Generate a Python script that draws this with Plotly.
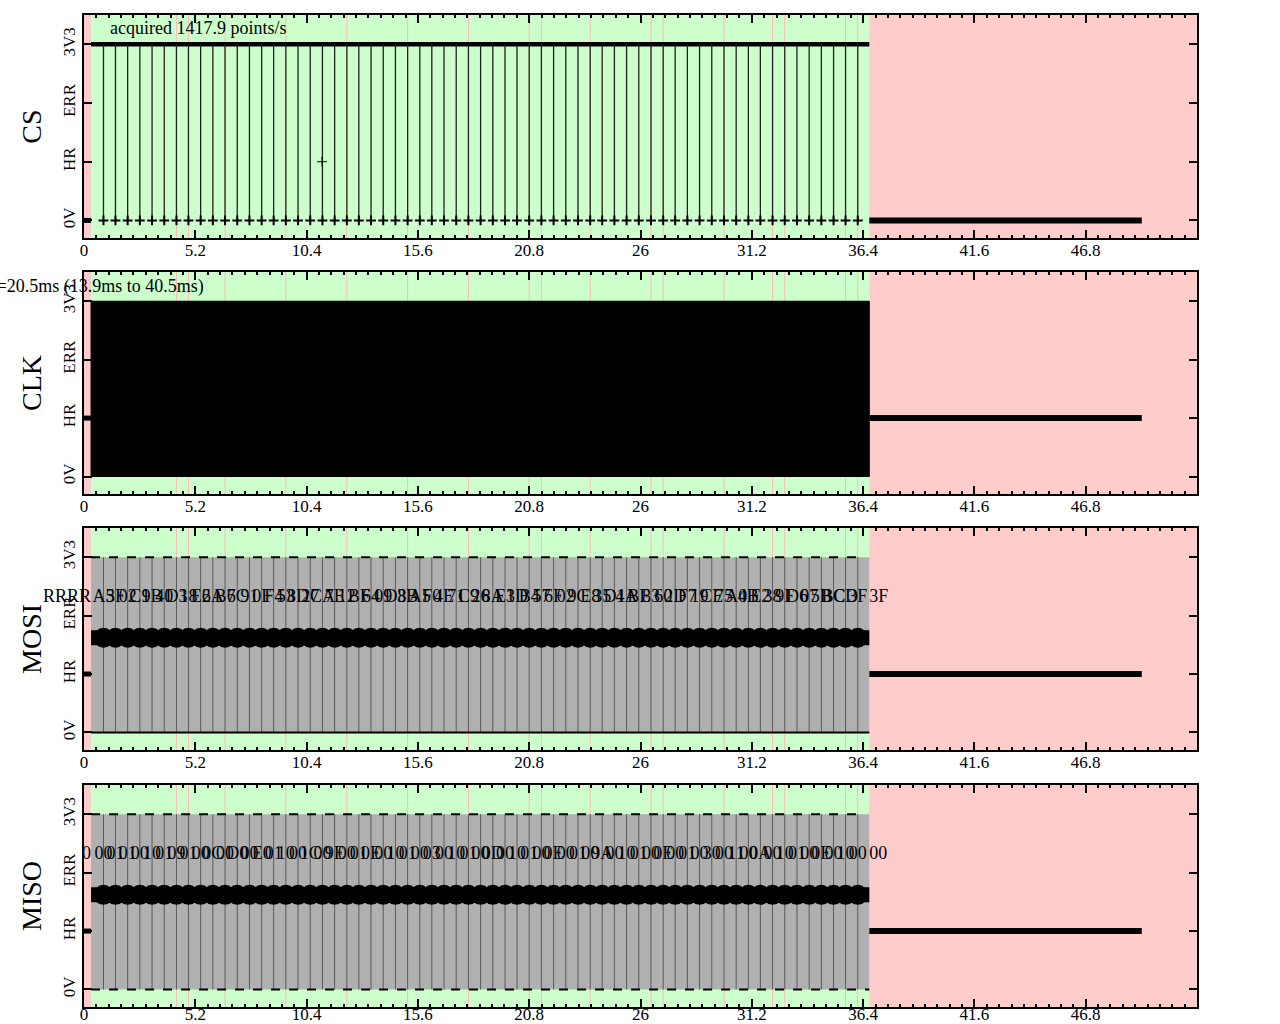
import plotly.graph_objects as go
from plotly.subplots import make_subplots

# ---------------- data ----------------
channels = ["CS", "CLK", "MOSI", "MISO"]
xtick_vals = [0, 5.2, 10.4, 15.6, 20.8, 26, 31.2, 36.4, 41.6, 46.8]
xtick_text = ["0", "5.2", "10.4", "15.6", "20.8", "26", "31.2", "36.4", "41.6", "46.8"]
ytick_vals = [0, 1, 2, 3]
ytick_text = ["0V", "HR", "ERR", "3V3"]
x_range = [0, 52]
y_range = [-0.3, 3.5]

capture_start = 0.33
capture_end = 36.69
idle_end = 49.42

# thin pink markers inside the capture window
marker_times = [4.32, 4.88, 6.59, 9.43, 12.28, 15.12, 17.96, 20.80, 21.37,
                23.65, 26.49, 27.06, 29.90, 32.17, 32.74, 35.58, 36.15]

# chip-select pulse times (ms)
pulse_times = [0.91, 1.47, 2.04, 2.61, 3.18, 3.75, 4.32, 4.88, 5.45, 6.02,
               6.59, 7.16, 7.73, 8.30, 8.86, 9.43, 10.00, 10.57, 11.14, 11.71,
               12.28, 12.84, 13.41, 13.98, 14.55, 15.12, 15.69, 16.25, 16.82, 17.39,
               17.96, 18.53, 19.10, 19.67, 20.23, 20.80, 21.37, 21.94, 22.51, 23.08,
               23.65, 24.21, 24.78, 25.35, 25.92, 26.49, 27.06, 27.62, 28.19, 28.76,
               29.33, 29.90, 30.47, 31.04, 31.60, 32.17, 32.74, 33.31, 33.88, 34.45,
               35.02, 35.58, 36.15]

glitch_time = [11.12]
glitch_level = [1]

mosi_labels = ["A5", "3F", "02", "C1", "9B", "40", "D3", "18", "E6",
               "2A", "B7", "6C", "91", "0F", "F4", "53", "8D", "27",
               "CA", "7E", "12", "BF", "64", "09", "D8", "3B", "A5",
               "F0", "4E", "71", "C9", "26", "8A", "E3", "1D", "B4",
               "57", "6F", "02", "9C", "E8", "35", "D1", "4A", "BE",
               "83", "60", "2D", "F7", "19", "CE", "75", "A0", "4B",
               "E2", "38", "9F", "D6", "07", "5B", "BC", "CD", "3F"]
miso_labels = ["00", "01", "01", "00", "10", "01", "09", "01", "00",
               "0C", "00", "D0", "00", "E0", "01", "10", "00", "1C",
               "00", "9E", "00", "01", "0E", "00", "10", "01", "00",
               "03", "00", "10", "01", "00", "0D", "00", "10", "01",
               "00", "0E", "00", "01", "00", "9A", "00", "10", "01",
               "00", "0E", "00", "01", "00", "30", "00", "11", "00",
               "0A", "00", "10", "01", "00", "0E", "00", "10", "00"]
mosi_edge_labels = ["RRRR", "3F"]
miso_edge_labels = ["0", "00"]

label_level = 2.31
frame_level = 1.62
acq_text = "acquired 1417.9 points/s"
clk_text = "Δt=20.5ms (13.9ms to 40.5ms)"

# ---------------- figure ----------------
FONT = "Liberation Serif, Times New Roman, serif"
fig = make_subplots(rows=4, cols=1)

domains = [[0.7752, 1.0], [0.5171, 0.7409], [0.2591, 0.4829], [0.0, 0.2238]]
label_standoffs = [-4, -4, -4, -9]


def vlines(xs, lo, hi):
    X, Y = [], []
    for x in xs:
        X += [x, x, None]
        Y += [lo, hi, None]
    return X, Y


def add(tr, r):
    fig.add_trace(tr, row=r, col=1)


def line(x, y, w, r, color="black", dash="solid", mode="lines", **kw):
    add(go.Scatter(x=x, y=y, mode=mode, line=dict(color=color, width=w, dash=dash),
                   hoverinfo="skip", **kw), r)


# CS
line([capture_start, capture_end], [3, 3], 4.5, 1)
vx, vy = vlines(pulse_times, 0, 3)
line(vx, vy, 1.3, 1, color="#202020")
add(go.Scatter(x=pulse_times, y=[0] * len(pulse_times), mode="markers",
               marker=dict(symbol="cross-thin", size=7, color="black",
                           line=dict(color="black", width=2))), 1)
line([0, capture_start], [0, 0], 5, 1)
line([capture_end, idle_end], [0, 0], 6, 1)
add(go.Scatter(x=glitch_time, y=glitch_level, mode="markers",
               marker=dict(symbol="cross-thin", size=7, color="black",
                           line=dict(color="black", width=1))), 1)

# CLK
add(go.Scatter(x=[capture_start, capture_end, capture_end, capture_start, capture_start],
               y=[0, 0, 3, 3, 0], mode="lines", fill="toself", fillcolor="black",
               line=dict(color="black", width=1)), 2)
line([0, capture_start], [1, 1], 5, 2)
line([capture_end, idle_end], [1, 1], 6, 2)

# MOSI / MISO
for r, labels, edges, bottom_dash in [(3, mosi_labels, mosi_edge_labels, "solid"),
                                      (4, miso_labels, miso_edge_labels, "dash")]:
    add(go.Scatter(x=[capture_start, capture_end, capture_end, capture_start, capture_start],
                   y=[0, 0, 3, 3, 0], mode="lines", fill="toself", fillcolor="#b0b0b0",
                   line=dict(color="#b0b0b0", width=0)), r)
    vx, vy = vlines(pulse_times, 0, 3)
    line(vx, vy, 1, r, color="#5a5a5a")
    line([capture_start, pulse_times[-1] + 0.25], [3, 3], 2, r, dash="dash")
    line([capture_start, capture_end], [0, 0], 2, r, dash=bottom_dash)
    line([capture_start, capture_end], [frame_level, frame_level], 15, r)
    add(go.Scatter(x=pulse_times, y=[frame_level] * len(pulse_times), mode="markers",
                   marker=dict(symbol="circle-open", size=17, color="black",
                               line=dict(color="black", width=3))), r)
    add(go.Scatter(x=pulse_times, y=[label_level] * len(pulse_times), mode="text",
                   text=labels, textposition="middle center", cliponaxis=False,
                   textfont=dict(family=FONT, size=18, color="black")), r)
    add(go.Scatter(x=[capture_start, capture_end], y=[label_level] * 2, mode="text",
                   text=edges, textposition=["middle left", "middle right"], cliponaxis=False,
                   textfont=dict(family=FONT, size=18, color="black")), r)
    line([0, capture_start], [1, 1], 5, r)
    line([capture_end, idle_end], [1, 1], 6, r)

# background regions
for r in range(1, 5):
    xr = "x" if r == 1 else f"x{r}"
    yr = "y domain" if r == 1 else f"y{r} domain"
    fig.add_shape(type="rect", xref=xr, yref=yr, x0=capture_start, x1=capture_end,
                  y0=0, y1=1, fillcolor="#ccffcc", line=dict(width=0), layer="below")
    for t in marker_times:
        fig.add_shape(type="line", xref=xr, yref=yr, x0=t, x1=t, y0=0, y1=1,
                      line=dict(color="#ffb8b8", width=1), layer="below")

for r in range(1, 5):
    fig.update_xaxes(row=r, col=1, range=x_range, tickvals=xtick_vals, ticktext=xtick_text,
                     ticks="inside", ticklen=8, tickwidth=1.5, tickcolor="black",
                     showline=True, linecolor="black", linewidth=2, mirror="ticks",
                     showgrid=False, zeroline=False, automargin=False,
                     ticklabelstandoff=label_standoffs[r - 1],
                     minor=dict(ticks="inside", ticklen=3, dtick=0.5778, tick0=0,
                                tickcolor="black", showgrid=False),
                     tickfont=dict(family=FONT, size=17, color="black"))
    fig.update_yaxes(row=r, col=1, range=y_range, tickvals=ytick_vals, ticktext=ytick_text,
                     ticks="inside", ticklen=8, tickwidth=1.5, tickcolor="black",
                     showline=True, linecolor="black", linewidth=2, mirror="ticks",
                     showgrid=False, zeroline=False, tickangle=-90, automargin=False,
                     domain=domains[r - 1],
                     title=dict(text=channels[r - 1], standoff=10,
                                font=dict(family=FONT, size=28, color="black")),
                     tickfont=dict(family=FONT, size=17, color="black"))

fig.add_annotation(xref="x", yref="y", x=1.12, y=3.28, text=acq_text, showarrow=False,
                   xanchor="left", yanchor="middle",
                   font=dict(family=FONT, size=18, color="black"))
fig.add_annotation(xref="x2", yref="y2", x=5.7, y=3.26, text=clk_text, showarrow=False,
                   xanchor="right", yanchor="middle",
                   font=dict(family=FONT, size=18, color="black"))

fig.update_layout(width=1280, height=1024, showlegend=False,
                  margin=dict(l=84, r=83, t=15, b=17),
                  paper_bgcolor="white", plot_bgcolor="#ffcccc",
                  font=dict(family=FONT, color="black"))

fig.write_html("out.html")
